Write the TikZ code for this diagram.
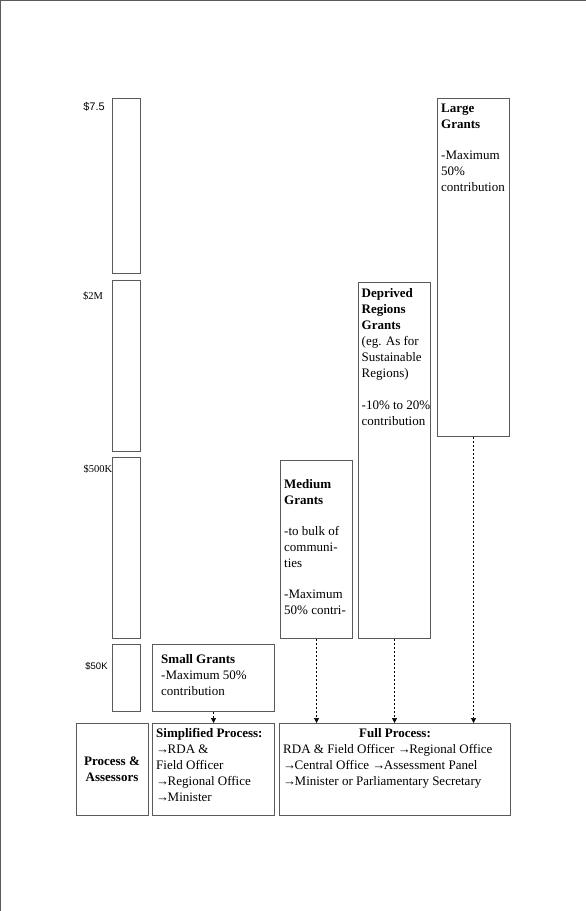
\documentclass[tikz,border=0pt]{standalone}
\usepackage{fontspec}
\setmainfont{Liberation Serif}
\newfontfamily\lsans{Liberation Sans}
\usetikzlibrary{arrows.meta}
\definecolor{edge}{HTML}{5A5A5A}
\newcommand{\ar}{→\kern-1.5pt}
\tikzset{
  x=1pt, y=-1pt,
  box/.style={draw=edge, line width=1.1pt, rectangle, inner sep=0pt, anchor=north west},
  txt/.style={inner sep=0pt, anchor=north west, align=left, font=\fontsize{13}{16}\selectfont},
  lbl/.style={inner sep=0pt, anchor=center},
  flow/.style={draw=black, line width=0.5pt, dash pattern=on 2pt off 2pt, -{Triangle[length=5pt,width=5pt]}}
}
\newcommand{\boxat}[5]{\node[box, minimum width=#4pt, minimum height=#5pt] (#1) at (#2,#3) {};}
\begin{document}
\begin{tikzpicture}
\useasboundingbox (0,0) rectangle (586,911);
% page border
\draw[edge, line width=1.2pt] (0,0.6) -- (586,0.6);
\draw[edge, line width=1.2pt] (0.6,0) -- (0.6,911);

% scale column
\boxat{s1}{112}{98}{28}{175}
\boxat{s2}{112}{280}{28}{171}
\boxat{s3}{112}{457}{28}{181}
\boxat{s4}{112}{644}{28}{67}
\node[lbl, font=\lsans\fontsize{11}{13}\selectfont] (l1) at (94,107) {\$7.5};
\node[lbl, font=\fontsize{10.5}{12}\selectfont] (l2) at (93,296) {\$2M};
\node[lbl, font=\fontsize{10.5}{12}\selectfont] (l3) at (98,469) {\$500K};
\node[lbl, font=\lsans\fontsize{9.5}{12}\selectfont] (l4) at (96.5,666) {\$50K};

% grant boxes
\boxat{small}{152}{644}{122}{67}
\node[txt] (smallT) at ([xshift=9pt,yshift=-10pt]small.north west) {\textbf{Small Grants}\\-Maximum 50\%\\contribution};

\boxat{medium}{280}{460}{72}{178}
\node[txt] (mediumT) at ([xshift=4pt,yshift=-19pt]medium.north west) {\textbf{Medium}\\\textbf{Grants}\\[15pt]-to bulk of\\communi-\\ties\\[15pt]-Maximum\\50\% contri-};

\boxat{deprived}{358}{282}{72}{356}
\node[txt] (deprivedT) at ([xshift=3.5pt,yshift=-6pt]deprived.north west) {\textbf{Deprived}\\\textbf{Regions}\\\textbf{Grants}\\(eg. As for\\Sustainable\\Regions)\\[16pt]-10\% to 20\%\\contribution};

\boxat{large}{437}{98}{72}{338}
\node[txt] (largeT) at ([xshift=4pt,yshift=-6pt]large.north west) {\textbf{Large}\\\textbf{Grants}\\[15pt]-Maximum\\50\%\\contribution};

% process boxes
\boxat{proc}{76}{723}{72}{92}
\node[txt, anchor=center, align=center] (procT) at (112,769) {\textbf{Process \&}\\\textbf{Assessors}};

\boxat{simp}{152}{723}{122}{92}
\node[txt] (simpT) at ([xshift=4pt,yshift=-5pt]simp.north west) {\textbf{Simplified Process:}\\\ar RDA \&\\Field Officer\\\ar Regional Office\\\ar Minister};

\boxat{full}{279}{723}{231}{92}
\node[txt, anchor=north, align=center] (fullT) at ([xshift=0pt,yshift=-5pt]full.north) {\textbf{Full Process:}};
\node[txt] (fullB) at ([xshift=4pt,yshift=-21pt]full.north west) {RDA \& Field Officer \ar Regional Office\\\ar Central Office \ar Assessment Panel\\\ar Minister or Parliamentary Secretary};

% connectors
\draw[flow] (small.south) -- (simp.north);
\draw[flow] (medium.south) -- (medium.south |- full.north);
\draw[flow] (deprived.south) -- (deprived.south |- full.north);
\draw[flow] (large.south) -- (large.south |- full.north);
\end{tikzpicture}
\end{document}
